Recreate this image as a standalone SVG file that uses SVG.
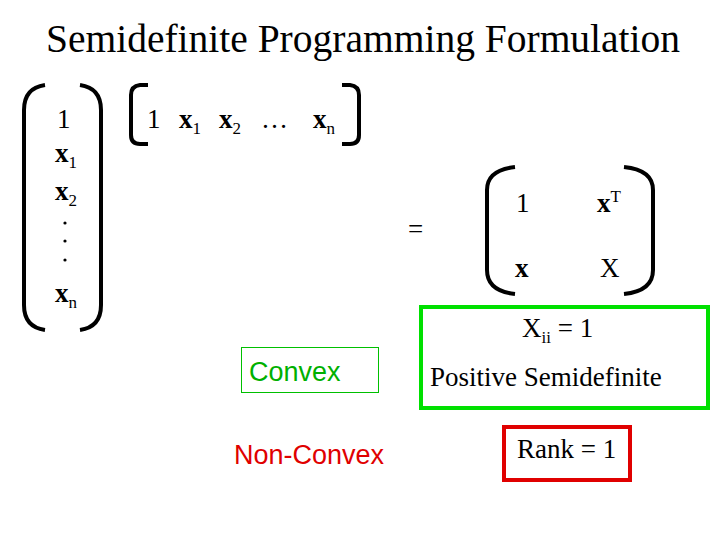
<svg xmlns="http://www.w3.org/2000/svg" width="720" height="540" viewBox="0 0 720 540" font-family="'Liberation Serif', 'DejaVu Serif', serif">
<style>
text{font-family:'Liberation Serif','DejaVu Serif',serif;fill:#000}
.m{font-size:27px}
.b{font-weight:bold}
.s{font-size:17px}
.sans{font-family:'Liberation Sans',Arial,sans-serif}
.br{fill:none;stroke:#000;stroke-width:4}
</style>
<rect width="720" height="540" fill="#fff"/>
<text x="363" y="52" font-size="39.5" text-anchor="middle">Semidefinite Programming Formulation</text>
<g id="colvec">
<path class="br" d="M45,85 Q24,88 24,110 L24,305 Q24,327 45,330"/>
<path class="br" d="M80,85 Q101,88 101,110 L101,305 Q101,327 80,330"/>
<text class="m" x="57" y="128">1</text>
<text class="m b" x="55" y="162">x<tspan class="s" dy="6" font-weight="normal">1</tspan></text>
<text class="m b" x="55" y="200">x<tspan class="s" dy="6" font-weight="normal">2</tspan></text>
<circle cx="65" cy="223" r="1.6"/><circle cx="65" cy="241" r="1.6"/><circle cx="65" cy="260" r="1.6"/>
<text class="m b" x="55" y="302">x<tspan class="s" dy="6" font-weight="normal">n</tspan></text>
</g>
<g id="rowvec">
<path class="br" d="M148,85 L140,85 Q131,86 131,95 L131,135 Q131,144 140,144 L148,144"/>
<path class="br" d="M342,85 L350,85 Q359,86 359,95 L359,135 Q359,144 350,144 L342,144"/>
<text class="m" x="147" y="128">1</text>
<text class="m b" x="179" y="128">x<tspan class="s" dy="6" font-weight="normal">1</tspan></text>
<text class="m b" x="219" y="128">x<tspan class="s" dy="6" font-weight="normal">2</tspan></text>
<text class="m" x="261" y="128">…</text>
<text class="m b" x="313" y="128">x<tspan class="s" dy="6" font-weight="normal">n</tspan></text>
</g>
<text class="m" x="408" y="238">=</text>
<g id="matrix">
<path class="br" d="M515,167 Q487,170 487,190 L487,270 Q487,291 515,294"/>
<path class="br" d="M624,167 Q653,170 653,190 L653,270 Q653,291 624,294"/>
<text class="m" x="516" y="212">1</text>
<text class="m b" x="597" y="212">x<tspan class="s" dy="-10" font-weight="normal">T</tspan></text>
<text class="m b" x="515" y="277">x</text>
<text class="m" x="600" y="277">X</text>
</g>
<g id="psd">
<rect x="421" y="307" width="287" height="101" fill="none" stroke="#00e000" stroke-width="4"/>
<text class="m" x="522" y="337">X<tspan class="s" dy="6">ii</tspan><tspan dy="-6"> = 1</tspan></text>
<text class="m" x="430" y="386">Positive Semidefinite</text>
</g>
<g id="rank">
<rect x="504" y="427" width="126" height="53" fill="none" stroke="#e00000" stroke-width="4"/>
<text class="m" x="517" y="458">Rank = 1</text>
</g>
<g id="convex">
<rect x="241.5" y="347.5" width="137" height="45" fill="none" stroke="#00c000" stroke-width="1"/>
<text class="sans" x="249" y="381" font-size="27" style="fill:#00b000">Convex</text>
</g>
<g id="nonconvex">
<text class="sans" x="234" y="464" font-size="27" style="fill:#e00000">Non-Convex</text>
</g>
<g id="connectors"/>
</svg>
